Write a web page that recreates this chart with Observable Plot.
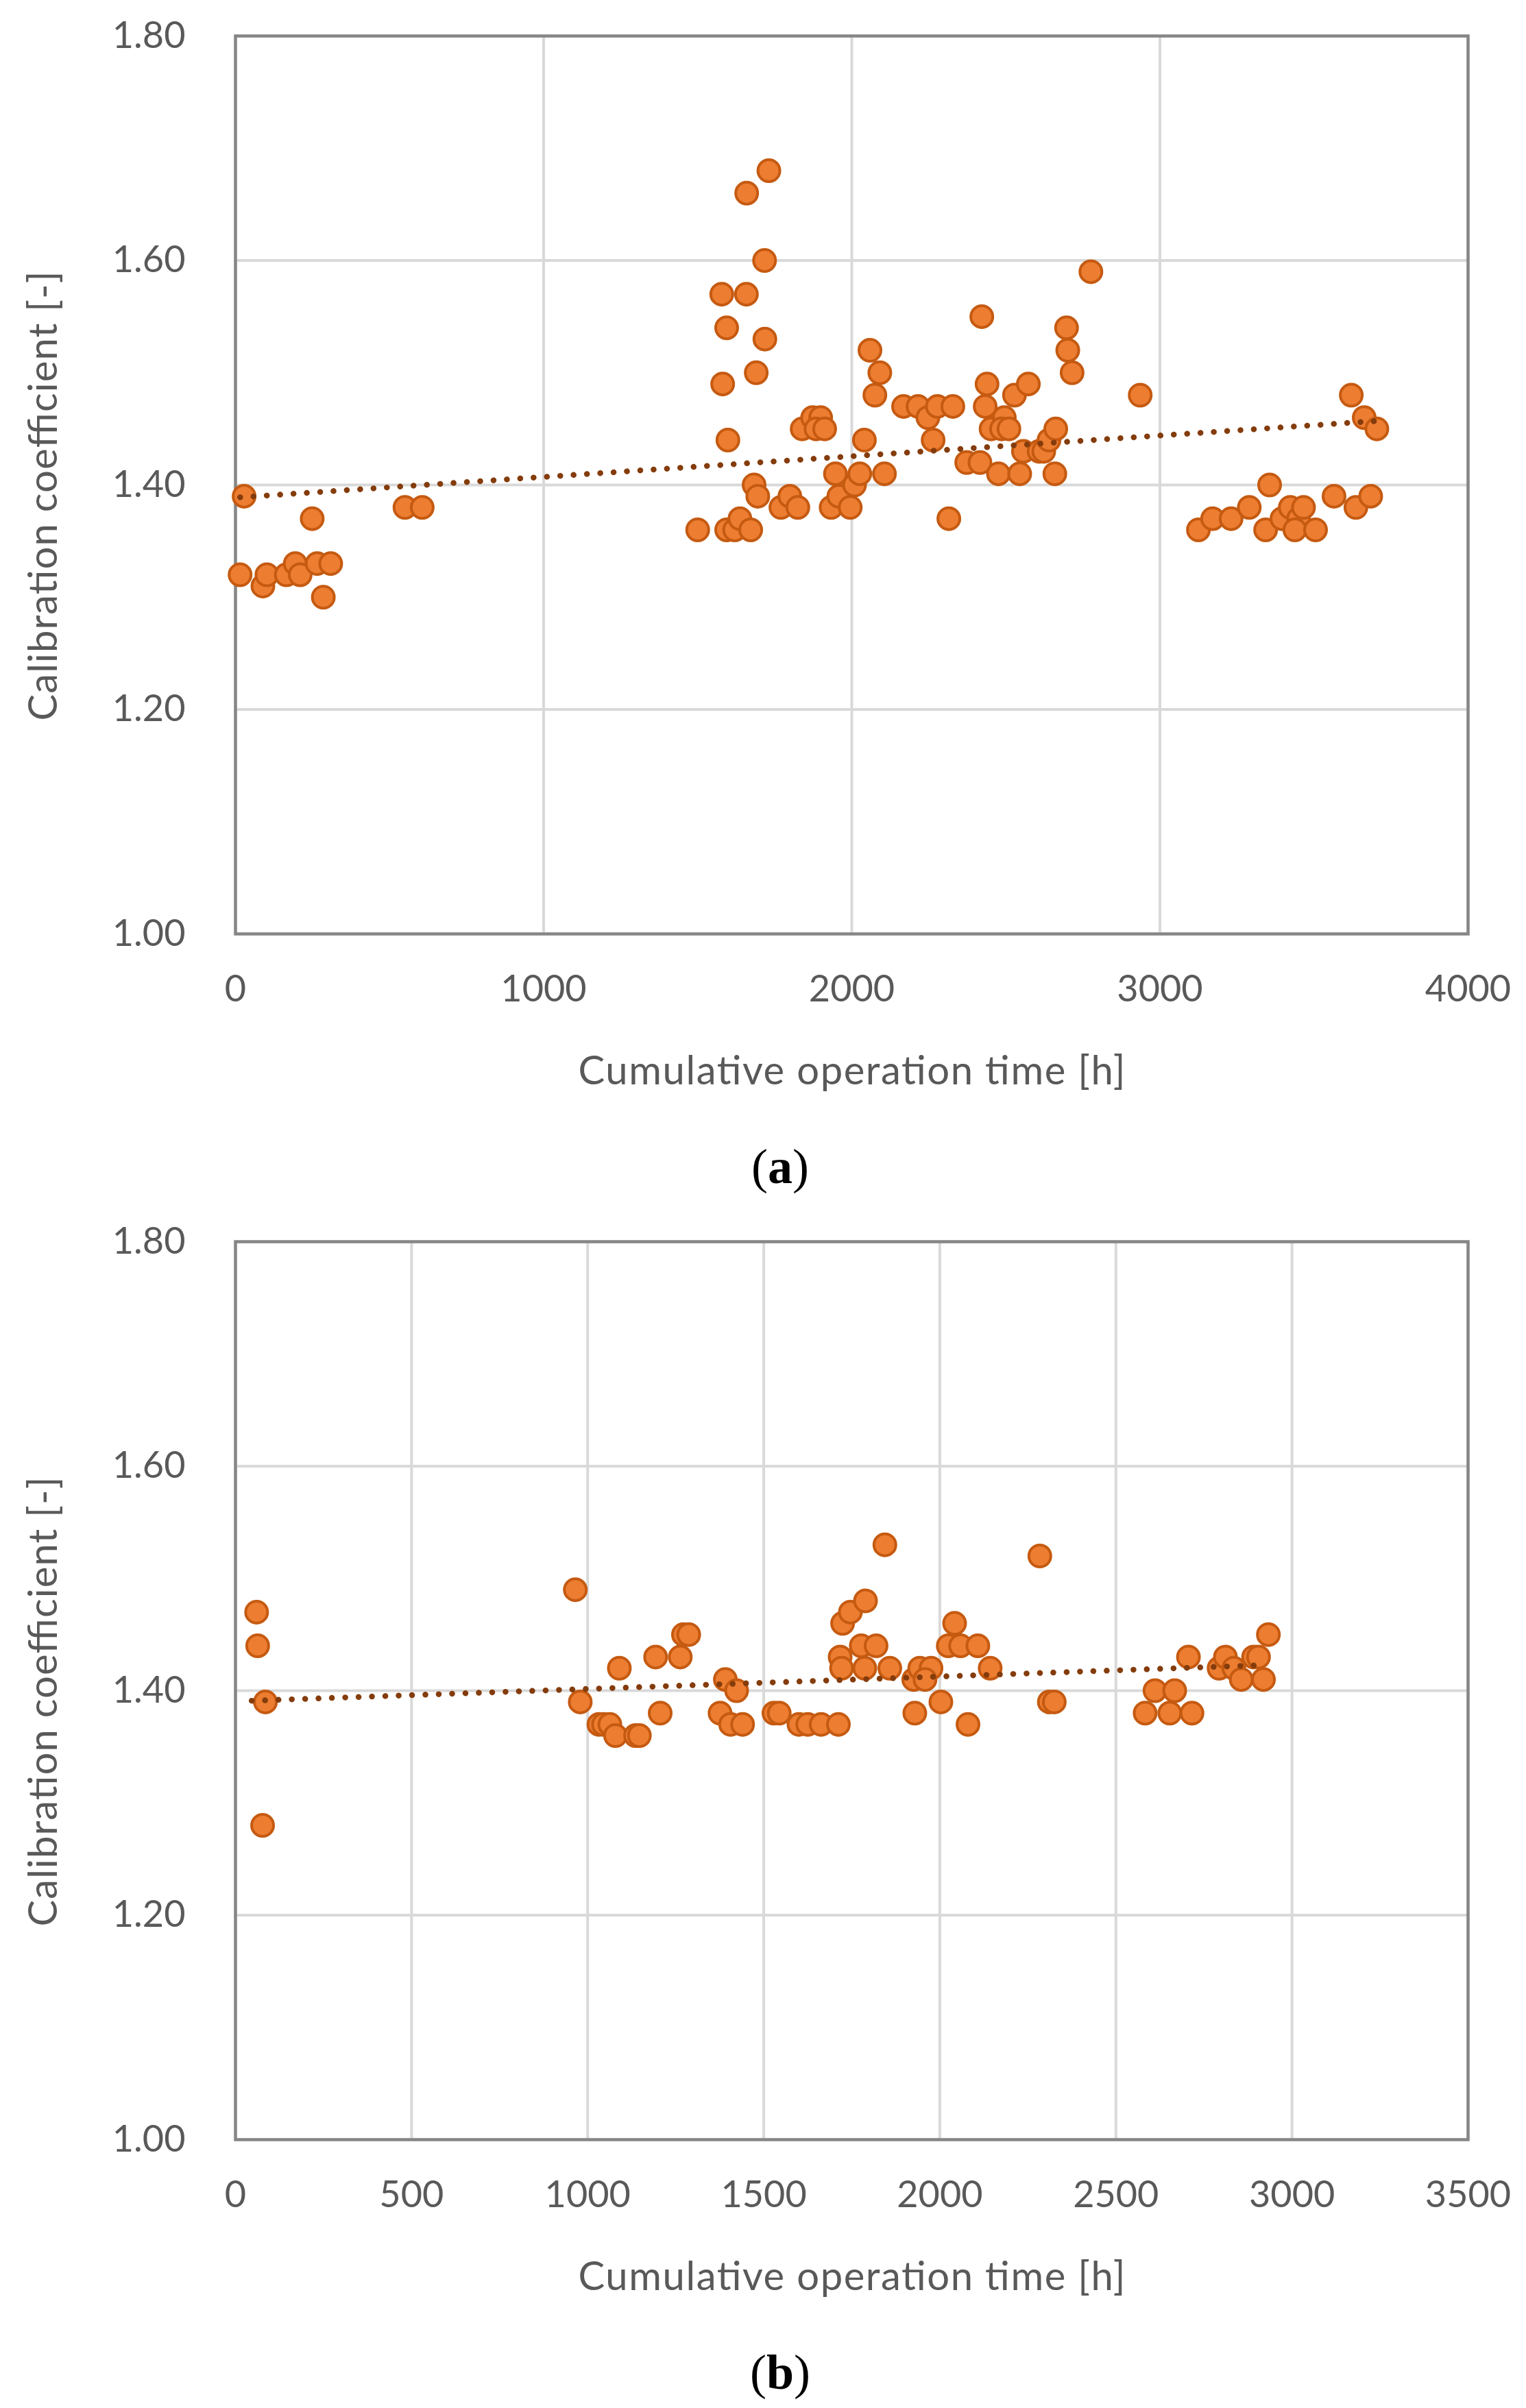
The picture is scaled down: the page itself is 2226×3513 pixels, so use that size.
<!DOCTYPE html>
<html>
<head>
<meta charset="utf-8">
<script src="https://cdn.jsdelivr.net/npm/d3@7"></script>
<script src="https://cdn.jsdelivr.net/npm/@observablehq/plot@0.6"></script>
<style>
  html, body { margin: 0; padding: 0; background: #ffffff; }
  #page { position: relative; width: 2226px; height: 3513px; overflow: hidden; background: #ffffff; }
  .panel { position: absolute; left: 0; }
  .caption { position: absolute; left: 0; width: 2276px; text-align: center; font-family: "Liberation Serif", "DejaVu Serif", serif; font-size: 72px; line-height: 72px; color: #000; }
  .caption b { font-weight: bold; }
</style>
</head>
<body>
<div id="page">
  <div id="panelA" class="panel" style="top:0px"></div>
  <div class="caption" style="top:1666px">(<b>a</b>)</div>
  <div id="panelB" class="panel" style="top:1759px"></div>
  <div class="caption" style="top:3425px">(<b>b</b>)</div>
</div>
<script>
// ---------- Data ----------
const yTitle = "Calibration coefficient [-]";
const xTitle = "Cumulative operation time [h]";
const yTicks = [1.0, 1.2, 1.4, 1.6, 1.8];
const xTicksA = [0, 1000, 2000, 3000, 4000];
const xTicksB = [0, 500, 1000, 1500, 2000, 2500, 3000, 3500];

// Panel (a)
const timeA = [28, 15, 89, 102, 165, 194, 210, 249, 265, 285, 309, 550, 606,
  1731, 1659, 1717, 1578, 1658, 1594, 1718, 1581, 1690, 1598, 1500, 1594, 1620, 1637, 1672, 1683, 1695,
  1770, 1799, 1825, 1839, 1873, 1899, 1884, 1912, 1933, 1958, 1947, 2009, 2026, 1995, 2041, 2059, 2091,
  2075, 2106, 2168, 2215, 2247, 2278, 2328, 2264, 2315, 2373, 2416, 2422, 2439, 2433, 2452, 2476, 2495,
  2486, 2510, 2528, 2573, 2545, 2557, 2608, 2623, 2640, 2662, 2659, 2697, 2701, 2715, 2776, 2936,
  3621, 3663, 3704, 3356, 3125, 3171, 3231, 3290, 3343, 3396, 3423, 3450, 3438, 3466, 3505, 3565, 3636, 3684];
const coefA = [1.39, 1.32, 1.31, 1.32, 1.32, 1.33, 1.32, 1.37, 1.33, 1.30, 1.33, 1.38, 1.38,
  1.68, 1.66, 1.60, 1.57, 1.57, 1.54, 1.53, 1.49, 1.50, 1.44, 1.36, 1.36, 1.36, 1.37, 1.36, 1.40, 1.39,
  1.38, 1.39, 1.38, 1.45, 1.46, 1.46, 1.45, 1.45, 1.38, 1.39, 1.41, 1.40, 1.41, 1.38, 1.44, 1.52, 1.50,
  1.48, 1.41, 1.47, 1.47, 1.46, 1.47, 1.47, 1.44, 1.37, 1.42, 1.42, 1.55, 1.49, 1.47, 1.45, 1.41, 1.46,
  1.45, 1.45, 1.48, 1.49, 1.41, 1.43, 1.43, 1.43, 1.44, 1.45, 1.41, 1.54, 1.52, 1.50, 1.59, 1.48,
  1.48, 1.46, 1.45, 1.40, 1.36, 1.37, 1.37, 1.38, 1.36, 1.37, 1.38, 1.37, 1.36, 1.38, 1.36, 1.39, 1.38, 1.39];
const trendTimeA = [15, 3704];
const trendCoefA = [1.389, 1.457];

// Panel (b)
const timeB = [60, 63, 85, 77, 965, 979, 1032, 1045, 1063, 1079, 1136, 1147, 1090, 1193, 1206, 1263, 1272, 1287,
  1391, 1423, 1376, 1406, 1440, 1529, 1544, 1600, 1625, 1663,
  1712, 1724, 1746, 1789, 1844, 1717, 1721, 1777, 1819, 1787, 1858, 1926, 1943, 1975, 1958, 1929, 2003,
  2042, 2024, 2059, 2108, 2143, 2080, 2284, 2311, 2325, 2583, 2611, 2653, 2667, 2716, 2706, 2793, 2811,
  2835, 2856, 2891, 2905, 2919, 2933];
const coefB = [1.47, 1.44, 1.39, 1.28, 1.49, 1.39, 1.37, 1.37, 1.37, 1.36, 1.36, 1.36, 1.42, 1.43, 1.38, 1.43, 1.45, 1.45,
  1.41, 1.40, 1.38, 1.37, 1.37, 1.38, 1.38, 1.37, 1.37, 1.37,
  1.37, 1.46, 1.47, 1.48, 1.53, 1.43, 1.42, 1.44, 1.44, 1.42, 1.42, 1.41, 1.42, 1.42, 1.41, 1.38, 1.39,
  1.46, 1.44, 1.44, 1.44, 1.42, 1.37, 1.52, 1.39, 1.39, 1.38, 1.40, 1.38, 1.40, 1.38, 1.43, 1.42, 1.43,
  1.42, 1.41, 1.43, 1.43, 1.41, 1.45];
const trendTimeB = [46, 2898];
const trendCoefB = [1.391, 1.4225];

// ---------- Chart ----------
function zip(xs, ys) { return xs.map((x, i) => ({x, y: ys[i]})); }

function makePanel(points, trend, xMax, xTicks) {
  const svg = Plot.plot({
    width: 2226,
    height: 1620,
    marginLeft: 343,
    marginRight: 85,
    marginTop: 52,
    marginBottom: 258,
    style: {fontFamily: "Lato, 'Open Sans', sans-serif", fontSize: "54px", color: "#595959", background: "#ffffff", overflow: "visible"},
    x: {domain: [0, xMax], label: null},
    y: {domain: [1.0, 1.8], label: null},
    marks: [
      Plot.gridX(xTicks, {stroke: "#d9d9d9", strokeWidth: 4, strokeOpacity: 1}),
      Plot.gridY(yTicks, {stroke: "#d9d9d9", strokeWidth: 4, strokeOpacity: 1}),
      Plot.frame({stroke: "#868686", strokeWidth: 4.5}),
      Plot.axisX(xTicks, {tickSize: 0, tickPadding: 60, tickFormat: d => String(d), fontSize: 54, fill: "#595959", label: null}),
      Plot.axisY(yTicks, {tickSize: 0, tickPadding: 73, tickFormat: d3.format(".2f"), fontSize: 54, fill: "#595959", label: null}),
      Plot.dot(points, {x: "x", y: "y", r: 16, fill: "#ED7D31", fillOpacity: 1, stroke: "#C55A11", strokeWidth: 4}),
      Plot.line(trend, {x: "x", y: "y", stroke: "#843C0C", strokeWidth: 8.5, strokeDasharray: "0.1,19.4", strokeLinecap: "round"}),
      Plot.text([xTitle], {frameAnchor: "bottom", dy: 201, text: d => d, textAnchor: "middle", lineAnchor: "middle", fontSize: 58, fill: "#595959"}),
      Plot.text([yTitle], {frameAnchor: "left", dx: -279, dy: 16, rotate: -90, text: d => d, textAnchor: "middle", lineAnchor: "middle", fontSize: 58, fill: "#595959"})
    ]
  });
  // stretch the two axis titles to the lengths measured on the reference
  d3.select(svg).selectAll("text").each(function() {
    const t = this.textContent;
    if (t === xTitle) { this.setAttribute("textLength", 798); this.setAttribute("lengthAdjust", "spacing"); }
    if (t === yTitle) { this.setAttribute("textLength", 656); this.setAttribute("lengthAdjust", "spacing"); }
  });
  return svg;
}

document.getElementById("panelA").appendChild(
  makePanel(zip(timeA, coefA), zip(trendTimeA, trendCoefA), 4000, xTicksA));
document.getElementById("panelB").appendChild(
  makePanel(zip(timeB, coefB), zip(trendTimeB, trendCoefB), 3500, xTicksB));
</script>
</body>
</html>
